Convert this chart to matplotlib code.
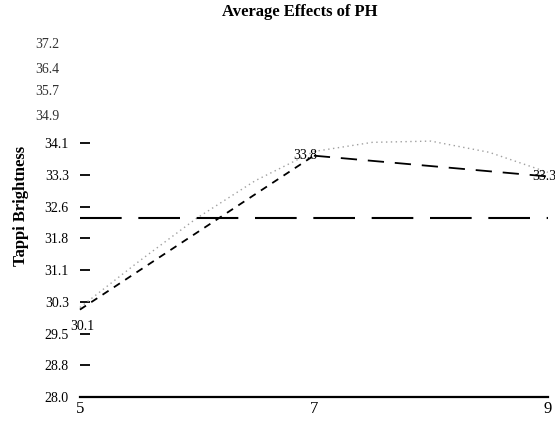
import numpy as np
import matplotlib
matplotlib.use("Agg")
import matplotlib.pyplot as plt

# pH levels and averaged brightness
ph = [5, 7, 9]
brightness = [30.1, 33.8, 33.3]
point_labels = [f"{v:.1f}" for v in brightness]

# smooth trend
trend_ph = [5, 5.5, 6, 6.5, 7, 7.5, 8, 8.5, 9]
trend_val = [30.15, 31.25, 32.3, 33.2, 33.9, 34.12, 34.15, 33.88, 33.4]

overall_mean = 32.3

ytick_vals = list(np.linspace(28.0, 34.1, 9))
ytick_labels = [f"{v:.1f}" for v in ytick_vals]
# upper labels drawn without tick marks (compressed spacing as in the source)
extra_vals = [34.77, 35.37, 35.9, 36.5]
extra_labels = ["34.9", "35.7", "36.4", "37.2"]

SERIF = "Liberation Serif"
plt.rcParams["font.family"] = SERIF

fig = plt.figure(figsize=(5.55, 4.21), dpi=100)
ax = fig.add_axes([0.144, 0.057, 0.843, 0.850])

ax.plot(trend_ph, trend_val, color="#a0a0a0", lw=1.0, ls=(0, (1, 2.5)), clip_on=False)
# rising part short dashes, falling part longer dashes (as in the source)
ax.plot(ph[:2], brightness[:2], color="black", lw=1.3, ls=(0, (4, 3.5)), clip_on=False)
ax.plot(ph[1:], brightness[1:], color="black", lw=1.3, ls=(0, (9, 6)), clip_on=False)
ax.axhline(overall_mean, color="black", lw=1.5, ls=(0, (20, 8)))

offsets = [(2, -12), (-6, 0), (6, 0)]
aligns = ["center", "center", "right"]
for x, y, s, off, ha in zip(ph, brightness, point_labels, offsets, aligns):
    ax.annotate(s, (x, y), xytext=off, textcoords="offset points", ha=ha,
                va="center", fontsize=10, annotation_clip=False)

ax.set_xlim(5, 9)
ax.set_ylim(28.0, 36.6)
ax.set_xticks(ph)
ax.set_xticklabels([str(p) for p in ph], fontsize=12)
ax.set_yticks(ytick_vals)
ax.set_yticklabels(ytick_labels, fontsize=10)
ax.set_yticks(extra_vals, minor=True)
ax.set_yticklabels(extra_labels, minor=True, fontsize=10, color="#333333")
ax.tick_params(axis="y", which="major", direction="in", length=7, width=1.3, pad=8)
ax.tick_params(axis="y", which="minor", length=0, pad=15)
ax.tick_params(axis="x", length=0, pad=3)

for side in ["left", "right", "top"]:
    ax.spines[side].set_visible(False)
ax.spines["bottom"].set_linewidth(1.6)

fig.text(0.54, 0.971, "Average Effects of PH", ha="center", va="center",
         fontsize=12, fontweight="bold")
fig.text(0.038, 0.51, "Tappi Brightness", ha="center", va="center",
         rotation=90, fontsize=12, fontweight="bold")

fig.savefig("out.png", dpi=100)
